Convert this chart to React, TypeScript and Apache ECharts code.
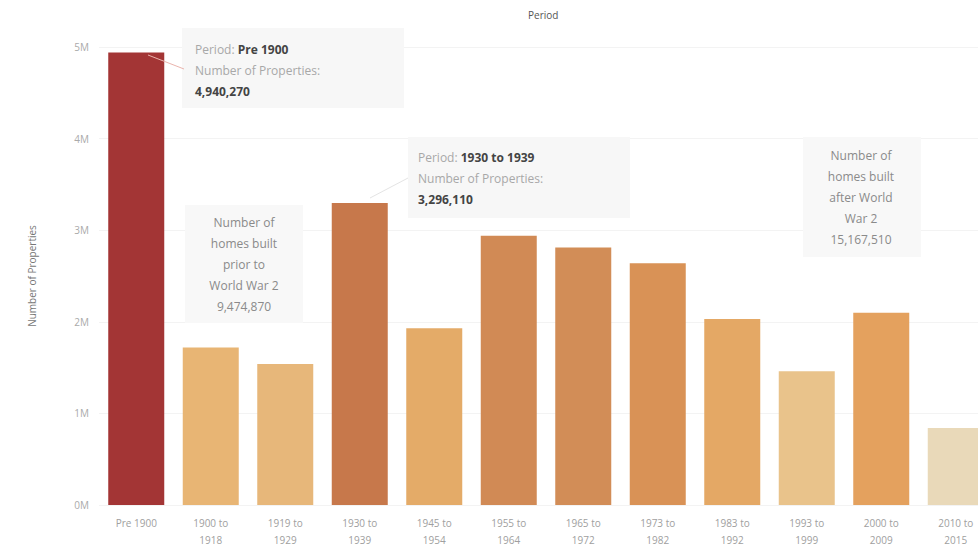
import React, { useEffect, useRef } from "react";
import * as echarts from "echarts";

const categories = [
  "Pre 1900",
  "1900 to\n1918",
  "1919 to\n1929",
  "1930 to\n1939",
  "1945 to\n1954",
  "1955 to\n1964",
  "1965 to\n1972",
  "1973 to\n1982",
  "1983 to\n1992",
  "1993 to\n1999",
  "2000 to\n2009",
  "2010 to\n2015",
];

const properties = [
  4940270, 1720000, 1540000, 3296110, 1930000, 2940000, 2810000, 2640000,
  2030000, 1460000, 2100000, 840000,
];

const barColors = [
  "#a33535", "#e8b574", "#e7b77a", "#c7784b", "#e4ab68", "#d18a55",
  "#d28d57", "#d99256", "#e4a865", "#e9c38b", "#e4a15e", "#e9d9b9",
];

const yTicks = [0, 1000000, 2000000, 3000000, 4000000, 5000000];

const FONT = "Open Sans, Lato, sans-serif";

export default function App() {
  const ref = useRef<HTMLDivElement>(null);

  useEffect(() => {
    if (!ref.current) return;
    const chart = echarts.init(ref.current, undefined, { renderer: "svg" });

    const labelRich = {
      g: { fill: "#a8a8a8", fontSize: 12, fontFamily: FONT, lineHeight: 21 },
      b: { fill: "#444444", fontSize: 12, fontWeight: "bold", fontFamily: FONT, lineHeight: 21 },
    };

    chart.setOption({
      animation: false,
      grid: { left: 99, right: 7, top: 47, bottom: 44, containLabel: false },
      xAxis: {
        type: "category",
        data: categories,
        axisLine: { show: false },
        axisTick: { show: false },
        axisLabel: {
          color: "#a0a0a0",
          fontSize: 10,
          fontFamily: FONT,
          lineHeight: 17,
          margin: 9,
          interval: 0,
        },
      },
      yAxis: {
        type: "value",
        min: yTicks[0],
        max: yTicks[yTicks.length - 1],
        interval: 1000000,
        name: "Number of Properties",
        nameLocation: "middle",
        nameGap: 62,
        nameTextStyle: { color: "#777", fontSize: 10, fontFamily: FONT },
        axisLine: { show: false },
        axisTick: { show: false },
        axisLabel: {
          color: "#aaaaaa",
          fontSize: 10,
          fontFamily: FONT,
          margin: 10,
          formatter: (v: number) => `${v / 1000000}M`,
        },
        splitLine: { lineStyle: { color: "#f3f3f3", width: 1 } },
      },
      series: [
        {
          type: "bar",
          data: properties.map((v, i) => ({ value: v, itemStyle: { color: barColors[i] } })),
          barWidth: 56,
        },
      ],
      graphic: [
        {
          type: "text",
          left: 528,
          top: 10,
          style: { text: "Period", fill: "#555", fontSize: 10, fontFamily: FONT },
        },
        // Pre 1900 callout
        {
          type: "rect",
          shape: { x: 182, y: 28, width: 222, height: 80 },
          style: { fill: "#f7f7f7" },
          z: 10,
        },
        {
          type: "line",
          shape: { x1: 148, y1: 55, x2: 184, y2: 69 },
          style: { stroke: "#eab4ad", lineWidth: 1 },
          z: 11,
        },
        {
          type: "text",
          x: 195,
          y: 39,
          z: 12,
          style: {
            text: "{g|Period: }{b|Pre 1900}\n{g|Number of Properties:}\n{b|4,940,270}",
            rich: labelRich,
            fontFamily: FONT,
          },
        },
        // 1930 to 1939 callout
        {
          type: "rect",
          shape: { x: 408, y: 137, width: 222, height: 81 },
          style: { fill: "#f7f7f7" },
          z: 10,
        },
        {
          type: "line",
          shape: { x1: 370, y1: 198, x2: 408, y2: 178 },
          style: { stroke: "#e4e4e4", lineWidth: 1 },
          z: 11,
        },
        {
          type: "text",
          x: 418,
          y: 147,
          z: 12,
          style: {
            text: "{g|Period: }{b|1930 to 1939}\n{g|Number of Properties:}\n{b|3,296,110}",
            rich: labelRich,
            fontFamily: FONT,
          },
        },
        // Pre-WW2 annotation
        {
          type: "rect",
          shape: { x: 185, y: 205, width: 118, height: 118 },
          style: { fill: "#f8f8f8" },
          z: 10,
        },
        {
          type: "text",
          x: 244,
          y: 212,
          z: 12,
          style: {
            text: "Number of\nhomes built\nprior to\nWorld War 2\n9,474,870",
            fill: "#8a8a8a",
            fontSize: 12,
            fontFamily: FONT,
            lineHeight: 21,
            align: "center",
          },
        },
        // Post-WW2 annotation
        {
          type: "rect",
          shape: { x: 803, y: 137, width: 118, height: 120 },
          style: { fill: "#f8f8f8" },
          z: 10,
        },
        {
          type: "text",
          x: 861,
          y: 145,
          z: 12,
          style: {
            text: "Number of\nhomes built\nafter World\nWar 2\n15,167,510",
            fill: "#8a8a8a",
            fontSize: 12,
            fontFamily: FONT,
            lineHeight: 21,
            align: "center",
          },
        },
      ],
    });

    return () => chart.dispose();
  }, []);

  return (
    <div
      style={{
        position: "fixed",
        left: 0,
        top: 0,
        width: 978,
        height: 549,
        overflow: "hidden",
        background: "#fff",
      }}
    >
      <div ref={ref} style={{ width: 1000, height: 549 }} />
    </div>
  );
}
